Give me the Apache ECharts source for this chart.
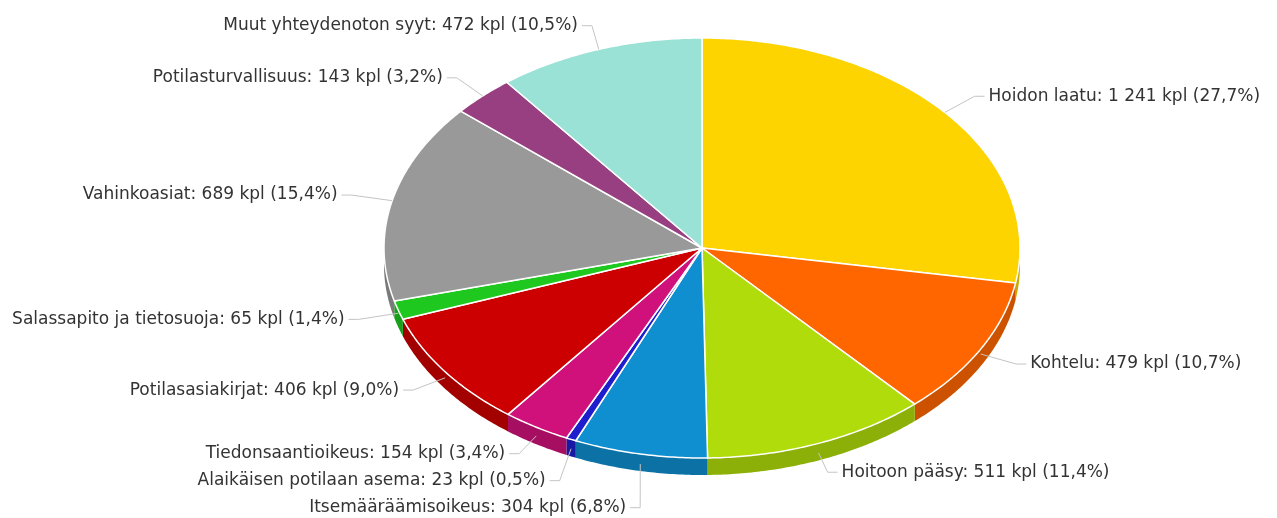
<!DOCTYPE html>
<html>
<head>
<meta charset="utf-8">
<title>Yhteydenottojen syyt</title>
<script src="https://cdn.jsdelivr.net/npm/echarts@6/dist/echarts.min.js"></script>
<style>
  html, body { margin: 0; padding: 0; background: #fff; }
  #chart { width: 1277px; height: 518px; }
</style>
</head>
<body>
<div id="chart"></div>
<script>
// slices, clockwise from 12 o'clock
const categories = [
  'Hoidon laatu',
  'Kohtelu',
  'Hoitoon pääsy',
  'Itsemääräämisoikeus',
  'Alaikäisen potilaan asema',
  'Tiedonsaantioikeus',
  'Potilasasiakirjat',
  'Salassapito ja tietosuoja',
  'Vahinkoasiat',
  'Potilasturvallisuus',
  'Muut yhteydenoton syyt'
]
const values = [1241, 479, 511, 304, 23, 154, 406, 65, 689, 143, 472]
const colors = [
  '#fdd300', '#ff6600', '#b0dc0b', '#0f8ed0', '#1e1ecc', '#d0117b',
  '#cc0000', '#1fc81f', '#999999', '#983f82', '#9be2d6'
]

// layout of the tilted pie
const cx = 702, cy = 248, rx = 318, ry = 210, depth = 17

const total = values.reduce((a, b) => a + b, 0)
const startAngles = []
const endAngles = []
let acc = 0
values.forEach(v => {
  startAngles.push(acc / total * Math.PI * 2)
  acc += v
  endAngles.push(acc / total * Math.PI * 2)
})

function pt(a, dy) {
  return [cx + rx * Math.sin(a), cy - ry * Math.cos(a) + (dy || 0)]
}
function arc(a0, a1, dy) {
  const n = Math.max(2, Math.ceil((a1 - a0) / 0.01))
  const pts = []
  for (let k = 0; k <= n; k++) pts.push(pt(a0 + (a1 - a0) * k / n, dy))
  return pts
}
function darken(hex, f) {
  const c = echarts.color.parse(hex)
  return 'rgb(' + [0, 1, 2].map(i => Math.round(c[i] * f)).join(',') + ')'
}
function fmt(n) {
  return String(n).replace(/\B(?=(\d{3})+(?!\d))/g, ' ')
}
function labelText(i) {
  const pct = (values[i] / total * 100).toFixed(1).replace('.', ',')
  return categories[i] + ': ' + fmt(values[i]) + ' kpl (' + pct + '%)'
}

// label anchors, pushed apart vertically when they crowd
const labels = values.map((v, i) => {
  const a = (startAngles[i] + endAngles[i]) / 2
  const front = Math.max(0, -Math.cos(a))
  return {
    i: i,
    a: a,
    left: Math.sin(a) < 0,
    x: cx + (rx + 52) * Math.sin(a),
    y: cy - (ry + 25) * Math.cos(a) + front * 6,
    start: pt(a, front * depth * 0.6)
  }
})
;[true, false].forEach(side => {
  const lower = labels.filter(l => l.left === side && l.y > cy).sort((p, q) => p.y - q.y)
  for (let k = 1; k < lower.length; k++) {
    if (lower[k].y - lower[k - 1].y < 27) lower[k].y = lower[k - 1].y + 27
  }
})

const data = values.map((v, i) => [i, v])

const chart = echarts.init(document.getElementById('chart'))
chart.setOption({
  animation: false,
  series: [
    {
      // side walls
      type: 'custom',
      coordinateSystem: 'none',
      silent: true,
      z: 1,
      data: data,
      renderItem: function (params) {
        const i = params.dataIndex
        const a0 = Math.max(startAngles[i], Math.PI / 2)
        const a1 = Math.min(endAngles[i], Math.PI * 1.5)
        if (a1 <= a0) return { type: 'group', children: [] }
        const pts = arc(a0, a1, 0).concat(arc(a0, a1, depth).reverse())
        return {
          type: 'polygon',
          shape: { points: pts },
          style: { fill: darken(colors[i], 0.8), stroke: null }
        }
      }
    },
    {
      // top faces
      type: 'custom',
      coordinateSystem: 'none',
      silent: true,
      z: 2,
      data: data,
      renderItem: function (params) {
        const i = params.dataIndex
        const pts = [[cx, cy]].concat(arc(startAngles[i], endAngles[i], 0))
        return {
          type: 'polygon',
          shape: { points: pts },
          style: { fill: colors[i], stroke: '#ffffff', lineWidth: 1.5, lineJoin: 'round' }
        }
      }
    },
    {
      // labels and connectors
      type: 'custom',
      coordinateSystem: 'none',
      silent: true,
      z: 3,
      data: data,
      renderItem: function (params) {
        const l = labels[params.dataIndex]
        const dir = l.left ? -1 : 1
        return {
          type: 'group',
          children: [
            {
              type: 'polyline',
              shape: { points: [l.start, [l.x - dir * 10, l.y], [l.x, l.y]] },
              style: { stroke: '#c4c4c4', lineWidth: 1, fill: null }
            },
            {
              type: 'text',
              style: {
                text: labelText(l.i),
                x: l.x + dir * 4,
                y: l.y,
                align: l.left ? 'right' : 'left',
                verticalAlign: 'middle',
                fill: '#333333',
                fontSize: 17,
                fontFamily: 'DejaVu Sans'
              }
            }
          ]
        }
      }
    }
  ]
})
</script>
</body>
</html>
